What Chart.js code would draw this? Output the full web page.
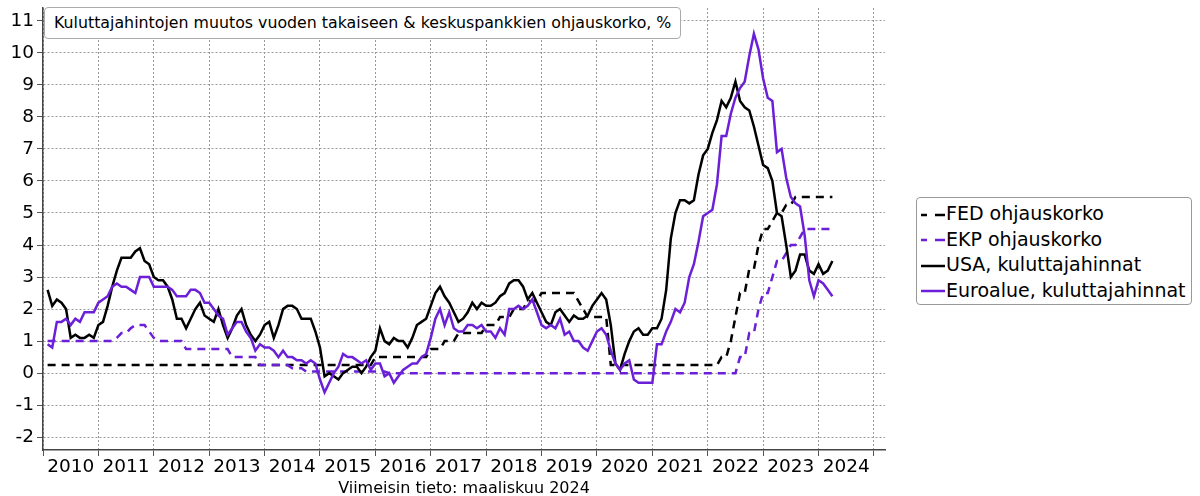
<!DOCTYPE html>
<html lang="fi">
<head>
<meta charset="utf-8">
<script src="https://cdn.jsdelivr.net/npm/chart.js@4.4.1/dist/chart.umd.min.js"></script>
<style>
  body { margin: 0; background: #fff; }
  #wrap { position: relative; width: 1200px; height: 496px; font-family: 'DejaVu Sans', sans-serif; }
  #kaavio { position: absolute; left: 0; top: 0; }
  #otsikko {
    position: absolute; left: 44px; top: 7px; height: 30px; padding: 0 9px;
    border: 1px solid #aaa; border-radius: 4px; background: #fff;
    font-size: 15.8px; line-height: 30px; white-space: nowrap; color: #000;
  }
  #selite {
    position: absolute; left: 916px; top: 197px; width: 276px; height: 108px;
    border: 1px solid #999; border-radius: 4px; background: #fff; box-sizing: border-box;
    padding: 3px 0 0 4px; font-size: 19px; color: #000;
  }
  .rivi { height: 25.5px; line-height: 25.5px; white-space: nowrap; }
  .rivi svg { vertical-align: middle; margin-right: 1px; }
</style>
</head>
<body>
<div id="wrap">
  <canvas id="kaavio" width="1200" height="496"></canvas>
  <div id="otsikko">Kuluttajahintojen muutos vuoden takaiseen &amp; keskuspankkien ohjauskorko, %</div>
  <div id="selite"></div>
</div>
<script>
// aikasarjat kuukausittain, tammikuu 2010 - maaliskuu 2024
const alkuVuosi = 2010;

const fedKorko = [
  0.25, 0.25, 0.25, 0.25, 0.25, 0.25, 0.25, 0.25, 0.25, 0.25, 0.25, 0.25,
  0.25, 0.25, 0.25, 0.25, 0.25, 0.25, 0.25, 0.25, 0.25, 0.25, 0.25, 0.25,
  0.25, 0.25, 0.25, 0.25, 0.25, 0.25, 0.25, 0.25, 0.25, 0.25, 0.25, 0.25,
  0.25, 0.25, 0.25, 0.25, 0.25, 0.25, 0.25, 0.25, 0.25, 0.25, 0.25, 0.25,
  0.25, 0.25, 0.25, 0.25, 0.25, 0.25, 0.25, 0.25, 0.25, 0.25, 0.25, 0.25,
  0.25, 0.25, 0.25, 0.25, 0.25, 0.25, 0.25, 0.25, 0.25, 0.25, 0.25, 0.5,
  0.5, 0.5, 0.5, 0.5, 0.5, 0.5, 0.5, 0.5, 0.5, 0.5, 0.5, 0.75,
  0.75, 0.75, 1, 1, 1, 1.25, 1.25, 1.25, 1.25, 1.25, 1.25, 1.5,
  1.5, 1.5, 1.75, 1.75, 1.75, 2, 2, 2, 2.25, 2.25, 2.25, 2.5,
  2.5, 2.5, 2.5, 2.5, 2.5, 2.5, 2.5, 2.25, 2, 1.75, 1.75, 1.75,
  1.75, 1.75, 0.25, 0.25, 0.25, 0.25, 0.25, 0.25, 0.25, 0.25, 0.25, 0.25,
  0.25, 0.25, 0.25, 0.25, 0.25, 0.25, 0.25, 0.25, 0.25, 0.25, 0.25, 0.25,
  0.25, 0.25, 0.5, 0.5, 1, 1.75, 2.5, 2.5, 3.25, 3.25, 4, 4.5,
  4.5, 4.75, 5, 5, 5.25, 5.25, 5.5, 5.5, 5.5, 5.5, 5.5, 5.5,
  5.5, 5.5, 5.5
];

const ekpKorko = [
  1, 1, 1, 1, 1, 1, 1, 1, 1, 1, 1, 1,
  1, 1, 1, 1.1, 1.25, 1.25, 1.4, 1.5, 1.5, 1.5, 1.3, 1.1,
  1, 1, 1, 1, 1, 1, 0.75, 0.75, 0.75, 0.75, 0.75, 0.75,
  0.75, 0.75, 0.75, 0.75, 0.5, 0.5, 0.5, 0.5, 0.5, 0.5, 0.25, 0.25,
  0.25, 0.25, 0.25, 0.25, 0.25, 0.15, 0.15, 0.15, 0.05, 0.05, 0.05, 0.05,
  0.05, 0.05, 0.05, 0.05, 0.05, 0.05, 0.05, 0.05, 0.05, 0.05, 0.05, 0.05,
  0.05, 0.05, 0, 0, 0, 0, 0, 0, 0, 0, 0, 0,
  0, 0, 0, 0, 0, 0, 0, 0, 0, 0, 0, 0,
  0, 0, 0, 0, 0, 0, 0, 0, 0, 0, 0, 0,
  0, 0, 0, 0, 0, 0, 0, 0, 0, 0, 0, 0,
  0, 0, 0, 0, 0, 0, 0, 0, 0, 0, 0, 0,
  0, 0, 0, 0, 0, 0, 0, 0, 0, 0, 0, 0,
  0, 0, 0, 0, 0, 0, 0.5, 0.5, 1.25, 1.25, 2, 2.5,
  2.5, 3, 3.5, 3.5, 3.75, 4, 4, 4.25, 4.5, 4.5, 4.5, 4.5,
  4.5, 4.5, 4.5
];

const usaInflaatio = [
  2.6, 2.1, 2.3, 2.2, 2.0, 1.1, 1.2, 1.1, 1.1, 1.2, 1.1, 1.5,
  1.6, 2.1, 2.7, 3.2, 3.6, 3.6, 3.6, 3.8, 3.9, 3.5, 3.4, 3.0,
  2.9, 2.9, 2.7, 2.3, 1.7, 1.7, 1.4, 1.7, 2.0, 2.2, 1.8, 1.7,
  1.6, 2.0, 1.5, 1.1, 1.4, 1.8, 2.0, 1.5, 1.2, 1.0, 1.2, 1.5,
  1.6, 1.1, 1.5, 2.0, 2.1, 2.1, 2.0, 1.7, 1.7, 1.7, 1.3, 0.8,
  -0.1, 0.0, -0.1, -0.2, 0.0, 0.1, 0.2, 0.2, 0.0, 0.2, 0.5, 0.7,
  1.4, 1.0, 0.9, 1.1, 1.0, 1.0, 0.8, 1.1, 1.5, 1.6, 1.7, 2.1,
  2.5, 2.7, 2.4, 2.2, 1.9, 1.6, 1.7, 1.9, 2.2, 2.0, 2.2, 2.1,
  2.1, 2.2, 2.4, 2.5, 2.8, 2.9, 2.9, 2.7, 2.3, 2.5, 2.2, 1.9,
  1.6, 1.5, 1.9, 2.0, 1.8, 1.6, 1.8, 1.7, 1.7, 1.8, 2.1, 2.3,
  2.5, 2.3, 1.5, 0.3, 0.1, 0.6, 1.0, 1.3, 1.4, 1.2, 1.2, 1.4,
  1.4, 1.7, 2.6, 4.2, 5.0, 5.4, 5.4, 5.3, 5.4, 6.2, 6.8, 7.0,
  7.5, 7.9, 8.5, 8.3, 8.6, 9.1, 8.5, 8.3, 8.2, 7.7, 7.1, 6.5,
  6.4, 6.0, 5.0, 4.9, 4.0, 3.0, 3.2, 3.7, 3.7, 3.2, 3.1, 3.4,
  3.1, 3.2, 3.5
];

const euroInflaatio = [
  0.9, 0.8, 1.6, 1.6, 1.7, 1.5, 1.7, 1.6, 1.9, 1.9, 1.9, 2.2,
  2.3, 2.4, 2.7, 2.8, 2.7, 2.7, 2.6, 2.5, 3.0, 3.0, 3.0, 2.7,
  2.7, 2.7, 2.7, 2.6, 2.4, 2.4, 2.4, 2.6, 2.6, 2.5, 2.2, 2.2,
  2.0, 1.8, 1.7, 1.2, 1.4, 1.6, 1.6, 1.3, 1.1, 0.7, 0.9, 0.8,
  0.8, 0.7, 0.5, 0.7, 0.5, 0.5, 0.4, 0.4, 0.3, 0.4, 0.3, -0.2,
  -0.6, -0.3, 0.0, 0.2, 0.6, 0.5, 0.5, 0.4, 0.3, 0.4, 0.1, 0.3,
  0.3, -0.1, 0.0, -0.3, -0.1, 0.1, 0.2, 0.3, 0.3, 0.5, 0.6, 1.1,
  1.7, 2.0, 1.5, 1.9, 1.4, 1.3, 1.3, 1.5, 1.5, 1.4, 1.5, 1.3,
  1.3, 1.1, 1.4, 1.2, 2.0, 2.0, 2.1, 2.0, 2.1, 2.3, 1.9, 1.5,
  1.4, 1.5, 1.4, 1.7, 1.2, 1.3, 1.0, 1.0, 0.8, 0.7, 1.0, 1.3,
  1.4, 1.2, 0.7, 0.3, 0.1, 0.3, 0.4, -0.2, -0.3, -0.3, -0.3, -0.3,
  0.9, 0.9, 1.3, 1.6, 2.0, 1.9, 2.2, 3.0, 3.4, 4.1, 4.9, 5.0,
  5.1, 5.9, 7.4, 7.4, 8.1, 8.6, 8.9, 9.1, 9.9, 10.6, 10.1, 9.2,
  8.6, 8.5, 6.9, 7.0, 6.1, 5.5, 5.3, 5.2, 4.3, 2.9, 2.4, 2.9,
  2.8, 2.6, 2.4
];

const vuodet = [2010, 2011, 2012, 2013, 2014, 2015, 2016, 2017, 2018, 2019, 2020, 2021, 2022, 2023, 2024, 2025];
const yTikit = [-2, -1, 0, 1, 2, 3, 4, 5, 6, 7, 8, 9, 10, 11];
const alaviite = 'Viimeisin tieto: maaliskuu 2024';

const sarjat = [
  { nimi: 'FED ohjauskorko', data: fedKorko, vari: '#000000', katko: true },
  { nimi: 'EKP ohjauskorko', data: ekpKorko, vari: '#6b1fd7', katko: true },
  { nimi: 'USA, kuluttajahinnat', data: usaInflaatio, vari: '#000000', katko: false },
  { nimi: 'Euroalue, kuluttajahinnat', data: euroInflaatio, vari: '#6b1fd7', katko: false }
];

// kuukausi -> desimaalivuosi (kuun loppu)
function pisteet(arvot) {
  return arvot.map((v, i) => ({ x: alkuVuosi + (i + 1) / 12, y: v }));
}

const fontti = { family: "'DejaVu Sans', sans-serif", size: 18.5 };
const ruudukko = {
  color: '#9a9a9a',
  lineWidth: 1,
  drawTicks: true,
  tickLength: 6,
  tickColor: '#555',
  tickWidth: 1
};

new Chart(document.getElementById('kaavio'), {
  type: 'line',
  data: {
    datasets: sarjat.map((s, i) => ({
      label: s.nimi,
      data: pisteet(s.data),
      borderColor: s.vari,
      backgroundColor: s.vari,
      borderWidth: 2.5,
      borderDash: s.katko ? [8, 6] : [],
      pointRadius: 0,
      tension: 0,
      fill: false,
      order: 4 - i
    }))
  },
  options: {
    responsive: false,
    animation: false,
    events: [],
    layout: { padding: { left: 0, top: 8, right: 315, bottom: 0 } },
    plugins: { legend: { display: false }, tooltip: { enabled: false } },
    scales: {
      x: {
        type: 'linear',
        min: 2010,
        max: 2025.2,
        afterBuildTicks: ax => { ax.ticks = vuodet.map(v => ({ value: v })); },
        afterFit: ax => { ax.height = 46; ax.paddingLeft = 0; ax.paddingRight = 0; },
        ticks: {
          autoSkip: false,
          maxRotation: 0,
          labelOffset: 27.7,
          padding: 0,
          color: '#000',
          font: fontti,
          callback: v => (v < 2025 ? String(v) : '')
        },
        grid: ruudukko,
        border: { display: true, color: '#444', width: 1.5, dash: [2, 2] },
        title: {
          display: true,
          text: alaviite,
          color: '#000',
          font: { family: "'DejaVu Sans', sans-serif", size: 16 },
          padding: { top: 0, bottom: -2 }
        }
      },
      y: {
        min: -2.4,
        max: 11.4,
        afterBuildTicks: ax => { ax.ticks = yTikit.map(v => ({ value: v })); },
        afterFit: ax => { ax.width = 43; ax.paddingTop = 0; ax.paddingBottom = 0; },
        ticks: { color: '#000', font: fontti, padding: 3 },
        grid: ruudukko,
        border: { display: true, color: '#444', width: 1.5, dash: [2, 2] }
      }
    }
  }
});

// selite
const selite = document.getElementById('selite');
sarjat.forEach(s => {
  const rivi = document.createElement('div');
  rivi.className = 'rivi';
  const viiva = s.katko
    ? `<line x1="0" y1="5" x2="24" y2="5" stroke="${s.vari}" stroke-width="2.5" stroke-dasharray="6,8,10"/>`
    : `<line x1="0" y1="5" x2="24" y2="5" stroke="${s.vari}" stroke-width="2.5"/>`;
  rivi.innerHTML = `<svg width="24" height="10">${viiva}</svg>${s.nimi}`;
  selite.appendChild(rivi);
});
</script>
</body>
</html>
